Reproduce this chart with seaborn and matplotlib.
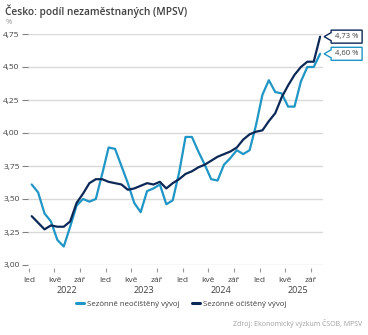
import numpy as np
import pandas as pd
import matplotlib
matplotlib.use("Agg")
import matplotlib.pyplot as plt
from matplotlib.patches import Polygon
from matplotlib.transforms import IdentityTransform, blended_transform_factory
import seaborn as sns

# Monthly unemployment share (%), Jan 2022 - Oct 2025
light = [3.61, 3.55, 3.39, 3.33, 3.19, 3.14, 3.29, 3.45, 3.50, 3.48, 3.50, 3.69,
         3.89, 3.88, 3.75, 3.62, 3.47, 3.40, 3.56, 3.58, 3.61, 3.46, 3.49, 3.70,
         3.97, 3.97, 3.86, 3.76, 3.65, 3.64, 3.76, 3.81, 3.87, 3.84, 3.87, 4.06,
         4.29, 4.40, 4.31, 4.30, 4.20, 4.20, 4.39, 4.50, 4.50, 4.60]
dark = [3.37, 3.32, 3.27, 3.30, 3.29, 3.29, 3.33, 3.47, 3.54, 3.62, 3.65, 3.65,
        3.63, 3.62, 3.61, 3.57, 3.58, 3.60, 3.62, 3.61, 3.63, 3.58, 3.62, 3.65,
        3.69, 3.71, 3.74, 3.76, 3.79, 3.82, 3.84, 3.86, 3.89, 3.95, 3.99, 4.01,
        4.02, 4.09, 4.15, 4.27, 4.36, 4.44, 4.50, 4.54, 4.54, 4.73]
series_names = ["Sezónně neočištěný vývoj", "Sezónně očištěný vývoj"]
month_labels = ["led", "kvě", "zář"]
years = ["2022", "2023", "2024", "2025"]
y_ticks = [3.00, 3.25, 3.50, 3.75, 4.00, 4.25, 4.50, 4.75]

C_LIGHT = "#1f96c6"
C_DARK = "#0c2856"
TXT = "#404040"

n = len(light)
months = np.arange(n)
df = pd.DataFrame({
    "m": np.concatenate([months, months]),
    "v": light + dark,
    "s": [series_names[0]] * n + [series_names[1]] * n,
})

sns.set_theme(style="white")
plt.rcParams["font.family"] = ["Open Sans", "DejaVu Sans"]

fig = plt.figure(figsize=(3.68, 3.35), dpi=100)
ax = fig.add_axes([28 / 368, 1 - 265 / 335, 295 / 368, 231 / 335])

sns.lineplot(data=df, x="m", y="v", hue="s", palette=[C_LIGHT, C_DARK],
             linewidth=1.6, ax=ax, legend=False, clip_on=False)

ax.set_xlim(-0.58, 45.45)
ax.set_ylim(3.0, 4.75)
for sp in ax.spines.values():
    sp.set_visible(False)

ax.set_yticks(y_ticks)
ax.set_yticklabels([f"{t:.2f}".replace(".", ",") for t in y_ticks])
ax.yaxis.grid(True, color="#d9d9d9", linewidth=1)
ax.tick_params(axis="y", length=4, width=0.8, color="#808080", pad=2,
               labelsize=6, labelcolor=TXT, left=True)

# month ticks every 4 months
tick_pos = np.arange(0, n, 4) - 0.45
ax.set_xticks(tick_pos)
ax.set_xticklabels([month_labels[i % 3] for i in range(len(tick_pos))])
ax.tick_params(axis="x", length=0, pad=9, labelsize=6, labelcolor=TXT)
trans = blended_transform_factory(ax.transData, ax.transAxes)
ax.plot(tick_pos, [-0.022] * len(tick_pos), ls="", marker="|", ms=2.5,
        mew=0.8, color="#999999", transform=trans, clip_on=False)
for i, yr in enumerate(years):
    ax.text(5.5 + 12 * i, -0.112, yr, transform=trans, ha="center", va="center",
            fontsize=6.5, color=TXT)
ax.set_xlabel("")
ax.set_ylabel("")

fig.text(5 / 368, 1 - 11.5 / 335, "Česko: podíl nezaměstnaných (MPSV)",
         fontsize=7.3, fontweight="semibold", color=TXT, va="center")
fig.text(6 / 368, 1 - 22 / 335, "%", fontsize=5.5, color="#909090", va="center")

# legend
handles = [plt.Line2D([], [], color=c, lw=2.2) for c in (C_LIGHT, C_DARK)]
fig.legend(handles, series_names, loc="center", bbox_to_anchor=(0.492, 1 - 304 / 335),
           ncol=2, frameon=False, fontsize=5.7, handlelength=1.05, handletextpad=0.3,
           columnspacing=1.6, labelcolor=TXT)

fig.text(362 / 368, 1 - 323 / 335, "Zdroj: Ekonomický výzkum ČSOB, MPSV",
         fontsize=5, color="#a0a0a0", ha="right", va="center")

# value callouts for the last month
fig.canvas.draw()
for vals, col in ((dark, C_DARK), (light, C_LIGHT)):
    px, py = ax.transData.transform((n - 1, vals[-1]))
    tip = px + 4
    left = tip + 7
    right = left + 31
    h = 6.5
    verts = [(tip, py), (left, py + 4), (left, py + h), (right, py + h),
             (right, py - h), (left, py - h), (left, py - 4)]
    fig.add_artist(Polygon(verts, closed=True, facecolor="white", edgecolor=col,
                           linewidth=1.0, transform=IdentityTransform()))
    fig.text((left + right) / 2 / 368, py / 335,
             f"{vals[-1]:.2f} %".replace(".", ","),
             fontsize=5.5, color=TXT, ha="center", va="center")

fig.savefig("out.png", dpi=100)
